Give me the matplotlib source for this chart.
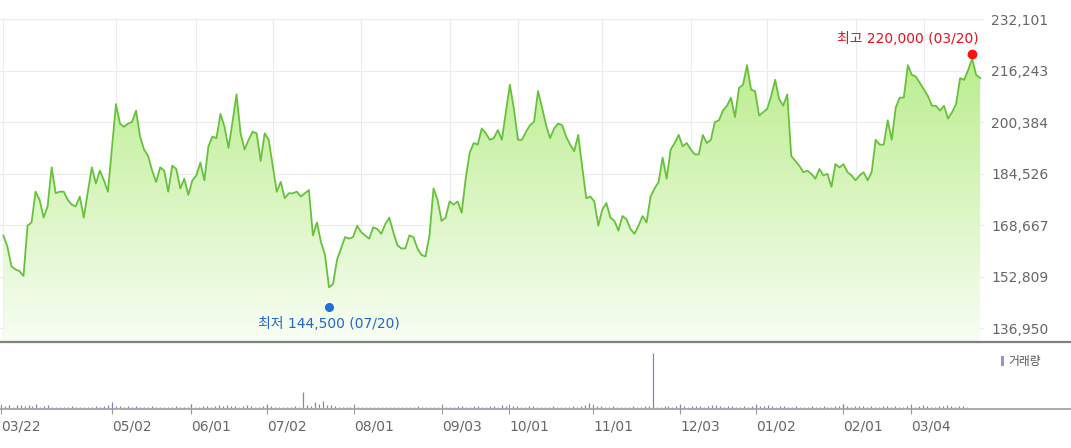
import matplotlib
matplotlib.use("Agg")
import matplotlib.pyplot as plt
import matplotlib.transforms as mtransforms
from matplotlib.colors import LinearSegmentedColormap
from matplotlib.patches import Patch
import numpy as np
import pandas as pd

plt.rcParams["font.family"] = ["DejaVu Sans", "Noto Sans CJK KR"]

# KRX 휴장일 (2018-03 ~ 2019-03)
KRX_HOLIDAYS = [
    "2018-05-01", "2018-05-07", "2018-05-22", "2018-06-06", "2018-06-13",
    "2018-08-15", "2018-09-24", "2018-09-25", "2018-09-26", "2018-10-03",
    "2018-10-09", "2018-12-25", "2018-12-31", "2019-01-01", "2019-02-04",
    "2019-02-05", "2019-02-06", "2019-03-01",
]
dates = pd.bdate_range("2018-03-22", "2019-03-22", freq="C", holidays=KRX_HOLIDAYS)

# 종가 (원)
price = [
    165500, 162000, 156000, 155000, 154500, 153000, 168500, 169500, 179000, 176500,
    171000, 174500, 186500, 178500, 179000, 179000, 176500, 175000, 174500, 177500,
    171000, 179000, 186500, 181500, 185500, 182500, 179000, 192500, 206000, 200000,
    199000, 200000, 200500, 204000, 196000, 192000, 190000, 185500, 182000, 186500,
    185500, 179000, 187000, 186000, 180000, 183000, 178000, 182500, 184000, 188000,
    182500, 193000, 196000, 195500, 203000, 199000, 192500, 200500, 209000, 197000,
    192000, 195000, 197500, 197000, 188500, 197000, 195000, 187000, 179000, 182000,
    177000, 178500, 178500, 179000, 177500, 178500, 179500, 165500, 169500, 163500,
    159500, 149500, 150500, 158000, 161500, 165000, 164500, 165000, 168500, 166500,
    165500, 164500, 168000, 167500, 166000, 169000, 171000, 166500, 162500, 161500,
    161500, 165500, 165000, 161500, 159500, 159000, 165500, 180000, 176500, 170000,
    171000, 176000, 175000, 176000, 172500, 183000, 191000, 194000, 193500, 198500,
    197000, 195000, 195500, 198000, 195000, 203500, 212000, 204500, 195000, 195000,
    197500, 199500, 200500, 210000, 205000, 199500, 195500, 198500, 200000, 199500,
    196000, 193500, 191500, 196500, 186500, 177000, 177500, 176000, 168500, 173500,
    175500, 171000, 170000, 167000, 171500, 170500, 167500, 166000, 168500, 171500,
    169500, 177500, 180000, 182000, 189500, 183000, 192000, 194000, 196500, 193000,
    194000, 192000, 190500, 190500, 196500, 194000, 195000, 200500, 201000, 204000,
    205500, 208000, 202000, 211000, 212000, 218000, 210500, 210000, 202500, 203500,
    204500, 208500, 213500, 207500, 205500, 209000, 190000, 188500, 187000, 185000,
    185500, 184500, 183000, 186000, 184000, 184500, 180500, 187500, 186500, 187500,
    185000, 184000, 182500, 184000, 185000, 182500, 185000, 195000, 193500, 193500,
    201000, 195000, 205000, 208000, 208000, 218000, 215000, 214500, 212500, 210500,
    208500, 205500, 205500, 204000, 205500, 201500, 203500, 206000, 214000, 213500,
    216500, 220000, 215000, 214000,
]

# 거래량 (천주)
volume = [
    110, 90, 130, 80, 120, 140, 100, 130, 90, 150,
    80, 90, 140, 70, 60, 80, 70, 60, 90, 70,
    60, 70, 80, 60, 90, 70, 100, 130, 240, 110,
    90, 80, 100, 70, 90, 80, 60, 70, 100, 80,
    60, 70, 80, 60, 90, 70, 60, 80, 150, 80,
    70, 90, 110, 80, 100, 130, 90, 120, 110, 90,
    80, 110, 120, 90, 80, 70, 90, 130, 90, 80,
    70, 60, 80, 70, 90, 80, 560, 120, 90, 230,
    150, 250, 130, 120, 90, 80, 70, 60, 80, 90,
    70, 60, 80, 70, 60, 80, 70, 60, 70, 80,
    60, 70, 80, 60, 70, 100, 80, 70, 60, 70,
    80, 90, 70, 60, 80, 90, 110, 80, 70, 90,
    100, 80, 70, 110, 90, 80, 120, 90, 80, 110,
    90, 70, 80, 100, 90, 70, 60, 80, 70, 90,
    60, 70, 80, 60, 90, 80, 100, 130, 180, 90,
    110, 90, 80, 70, 90, 60, 80, 70, 60, 90,
    80, 60, 90, 100, 1800, 80, 70, 90, 100, 80,
    90, 120, 100, 80, 90, 110, 100, 80, 90, 120,
    140, 90, 80, 100, 90, 80, 70, 90, 80, 100,
    130, 100, 90, 120, 90, 80, 110, 90, 80, 70,
    90, 80, 70, 80, 90, 70, 80, 100, 80, 70,
    90, 100, 160, 90, 80, 100, 90, 110, 80, 90,
    70, 80, 90, 100, 80, 90, 70, 80, 110, 90,
    80, 90, 120, 100, 80, 70, 90, 100, 120, 90,
    80, 110, 90, 70,
]

tick_dates = ["2018-03-22", "2018-05-02", "2018-06-01", "2018-07-02", "2018-08-01",
              "2018-09-03", "2018-10-01", "2018-11-01", "2018-12-03", "2019-01-02",
              "2019-02-01", "2019-03-04"]
tick_labels = ["03/22", "05/02", "06/01", "07/02", "08/01", "09/03",
               "10/01", "11/01", "12/03", "01/02", "02/01", "03/04"]
y_ticks = [136950, 152809, 168667, 184526, 200384, 216243, 232101]

high_date, high_value = "2019-03-20", 220000
low_date, low_value = "2018-07-20", 144500

x = np.arange(len(dates))
tick_idx = [dates.get_loc(pd.Timestamp(d)) for d in tick_dates]
hi_idx = dates.get_loc(pd.Timestamp(high_date))
lo_idx = dates.get_loc(pd.Timestamp(low_date))

W, H = 1071, 448
fig = plt.figure(figsize=(W / 100, H / 100), dpi=100)
ax = fig.add_axes([0, (H - 342) / H, 984 / W, 323 / H])
axv = fig.add_axes([0, (H - 409) / H, 1, 67 / H])

# --- 가격 차트 ---
xlim = (-0.85, 243.95)
ylim = (132640, 232250)

poly = ax.fill_between(x, price, ylim[0], color="none", lw=0)
grad = np.linspace(0, 1, 256).reshape(-1, 1)
cmap = LinearSegmentedColormap.from_list("g", ["#f8fef4", "#b3eb80"])
img = ax.imshow(grad, extent=[xlim[0], xlim[1], ylim[0], ylim[1]], origin="lower",
                aspect="auto", cmap=cmap, zorder=1)
img.set_clip_path(poly.get_paths()[0], transform=ax.transData)

ax.plot(x, price, color="#66c23a", lw=1.3, zorder=3)

ax.set_xlim(*xlim)
ax.set_ylim(*ylim)
ax.set_xticks(tick_idx)
ax.set_yticks(y_ticks)
ax.set_yticklabels([f"{v:,}" for v in y_ticks])
ax.yaxis.tick_right()
ax.tick_params(axis="x", length=0, labelbottom=False)
ax.tick_params(axis="y", length=0, pad=5, labelsize=10, labelcolor="#666666")
ax.grid(True, color="#ececec", lw=0.8, zorder=0)
ax.set_axisbelow(True)
for s in ax.spines.values():
    s.set_visible(False)

# 최고 / 최저 표시
up = ax.transData + mtransforms.ScaledTranslation(0, 0.05, fig.dpi_scale_trans)
down = ax.transData + mtransforms.ScaledTranslation(0, -0.035, fig.dpi_scale_trans)
ax.plot([hi_idx], [high_value], "o", ms=6, color="#ff1010", transform=up, zorder=5, clip_on=False)
ax.plot([lo_idx], [low_value], "o", ms=5.5, color="#1f6fdc", transform=down, zorder=5, clip_on=False)
ax.annotate(f"최고 {high_value:,} ({high_date[5:7]}/{high_date[8:]})", xy=(hi_idx, high_value),
            xytext=(4.5, 14.4), textcoords="offset points", ha="right", va="center",
            color="#e8101e", fontsize=10)
ax.annotate(f"최저 {low_value:,} ({low_date[5:7]}/{low_date[8:]})", xy=(lo_idx, low_value),
            xytext=(0, -14.8), textcoords="offset points", ha="center", va="center",
            color="#2266cc", fontsize=10)

# --- 거래량 ---
axv.vlines(x, 0, volume, color="#8a80bf", lw=0.9)
axv.set_xlim(-0.176, 269.26)
axv.set_ylim(0, 2150)
axv.set_yticks([])
axv.set_xticks(tick_idx)
axv.set_xticklabels(tick_labels, ha="left")
axv.tick_params(axis="x", direction="inout", length=7, width=0.8, color="#9a9a9a",
                pad=4, labelsize=10, labelcolor="#666666")
axv.spines["left"].set_visible(False)
axv.spines["right"].set_visible(False)
axv.spines["top"].set_color("#808080")
axv.spines["top"].set_linewidth(1.6)
axv.spines["bottom"].set_color("#a0a0a0")
axv.spines["bottom"].set_linewidth(1.2)
axv.patch.set_alpha(0)

axv.legend(handles=[Patch(facecolor="#9b8fd1", label="거래량")], loc="upper right",
           bbox_to_anchor=(1041 / W, (H - 355) / H), bbox_transform=fig.transFigure,
           frameon=False, handlelength=0.3, handleheight=1.0, handletextpad=0.35,
           borderpad=0, borderaxespad=0,
           prop={"family": ["Noto Sans CJK KR"], "size": 8.5})
for t in axv.get_legend().get_texts():
    t.set_color("#555555")

fig.savefig("out.png", dpi=100)
